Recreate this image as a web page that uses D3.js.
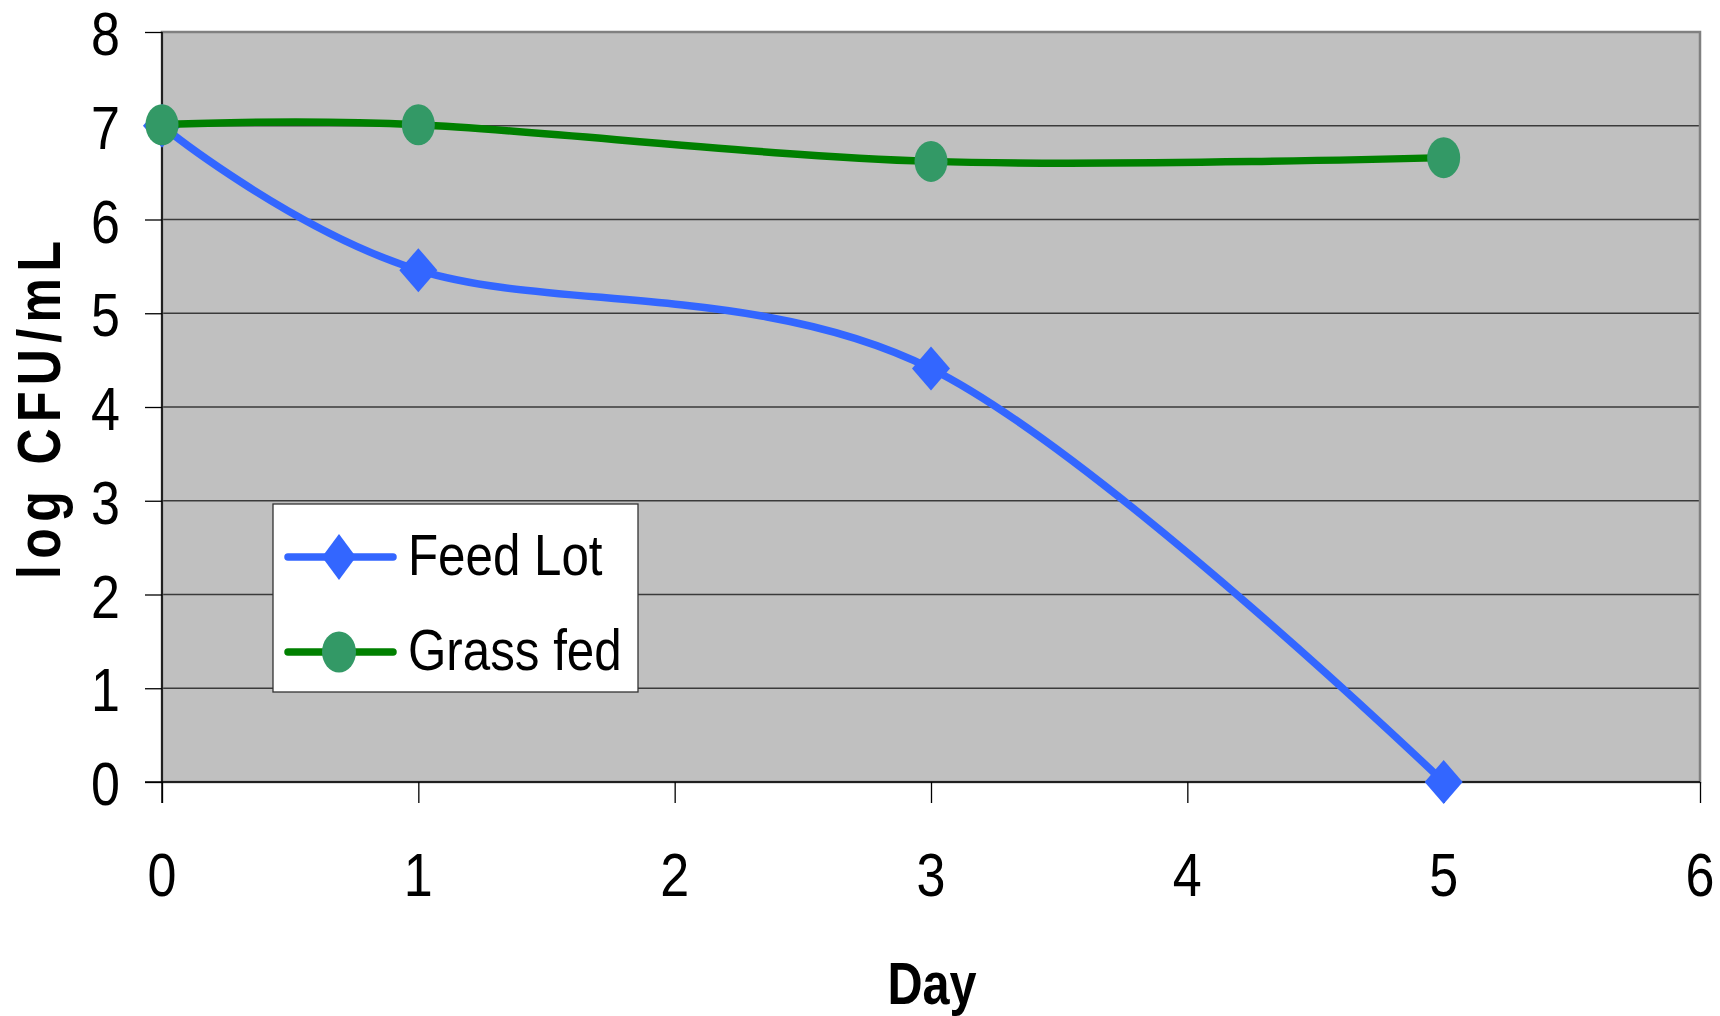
<!DOCTYPE html>
<html>
<head>
<meta charset="utf-8">
<script src="https://cdn.jsdelivr.net/npm/d3@7"></script>
<style>
  html, body { margin: 0; padding: 0; background: #fff; }
  svg { display: block; }
  text { font-family: "Liberation Sans", Arial, sans-serif; fill: #000; }
</style>
</head>
<body>
<svg id="chart" width="1720" height="1016"></svg>
<script>
// ---- data ----
const days = [0, 1, 3, 5];
const feedLot = [7.0, 5.46, 4.41, 0.0];
const grassFed = [7.01, 7.01, 6.62, 6.66];
const seriesNames = ["Feed Lot", "Grass fed"];
const xTicks = [0, 1, 2, 3, 4, 5, 6];
const yTicks = [0, 1, 2, 3, 4, 5, 6, 7, 8];
const xTitle = "Day";
const yTitle = "log CFU/mL";

// ---- layout ----
const svg = d3.select("#chart");
const L = 162, R = 1700, T = 32, B = 782;
const x = d3.scaleLinear().domain([0, 6]).range([L, R]);
const y = d3.scaleLinear().domain([0, 8]).range([B, T]);

const blue = "#3366FF", green = "#008000", greenMk = "#339966";

// plot background
svg.append("rect").attr("x", L).attr("y", T).attr("width", R - L).attr("height", B - T)
  .attr("fill", "#C0C0C0");

// gridlines
svg.append("g").selectAll("line").data(yTicks.filter(d => d > 0 && d < 8)).join("line")
  .attr("x1", L).attr("x2", R).attr("y1", d => y(d)).attr("y2", d => y(d))
  .attr("stroke", "#3a3a3a").attr("stroke-width", 1.3);

// border (gray top/right)
svg.append("rect").attr("x", L).attr("y", T).attr("width", R - L).attr("height", B - T)
  .attr("fill", "none").attr("stroke", "#808080").attr("stroke-width", 2.5);

// axes
const yAxis = d3.axisLeft(y).tickValues(yTicks).tickSize(17).tickFormat("");
const gy = svg.append("g").attr("transform", `translate(${L},0)`).call(yAxis);
gy.select(".domain").attr("stroke", "#000").attr("stroke-width", 1.5).attr("d", `M0,${B + 21}V${T}`);
gy.selectAll(".tick line").attr("stroke", "#000").attr("stroke-width", 1.3);

const xAxis = d3.axisBottom(x).tickValues(xTicks).tickSize(21).tickFormat("");
const gx = svg.append("g").attr("transform", `translate(0,${B})`).call(xAxis);
gx.select(".domain").attr("stroke", "#000").attr("stroke-width", 1.5).attr("d", `M${L - 17},0H${R}`);
gx.selectAll(".tick line").attr("stroke", "#000").attr("stroke-width", 1.3);

// tick labels (condensed)
svg.append("g").selectAll("text").data(yTicks).join("text")
  .attr("transform", d => `translate(120,${y(d) + 23}) scale(0.84,1)`)
  .attr("text-anchor", "end").attr("font-size", 62).text(d => d);

svg.append("g").selectAll("text").data(xTicks).join("text")
  .attr("transform", d => `translate(${x(d)},896) scale(0.84,1)`)
  .attr("text-anchor", "middle").attr("font-size", 62).text(d => d);

// axis titles
svg.append("text").attr("transform", "translate(932,1004) scale(0.81,1)")
  .attr("text-anchor", "middle").attr("font-size", 60).attr("font-weight", "bold").text(xTitle);

svg.append("text").attr("transform", "translate(60,410) rotate(-90) scale(0.82,1)")
  .attr("text-anchor", "middle").attr("font-size", 61).attr("font-weight", "bold")
  .attr("textLength", 338 / 0.82).attr("lengthAdjust", "spacing").text(yTitle);

// lines
const line = d3.line().x(d => x(d[0])).y(d => y(d[1])).curve(d3.curveCardinal.tension(0));
const feedPts = days.map((d, i) => [d, feedLot[i]]);
const grassPts = days.map((d, i) => [d, grassFed[i]]);

const diamond = (cx, cy, rx, ry) => `M${cx},${cy - ry}L${cx + rx},${cy}L${cx},${cy + ry}L${cx - rx},${cy}Z`;

svg.append("path").datum(feedPts).attr("d", line).attr("fill", "none")
  .attr("stroke", blue).attr("stroke-width", 7.5).attr("stroke-linejoin", "round");
svg.append("g").selectAll("path").data(feedPts).join("path")
  .attr("d", d => diamond(x(d[0]), y(d[1]), 19, 22)).attr("fill", blue);

svg.append("path").datum(grassPts).attr("d", line).attr("fill", "none")
  .attr("stroke", green).attr("stroke-width", 7.5).attr("stroke-linejoin", "round");
svg.append("g").selectAll("ellipse").data(grassPts).join("ellipse")
  .attr("cx", d => x(d[0])).attr("cy", d => y(d[1])).attr("rx", 16.5).attr("ry", 20.5)
  .attr("fill", greenMk);

// legend
const lg = svg.append("g");
lg.append("rect").attr("x", 273).attr("y", 504).attr("width", 365).attr("height", 188)
  .attr("fill", "#fff").attr("stroke", "#333").attr("stroke-width", 1.3);
const rows = [557, 652];
const cols = [blue, green];
rows.forEach((ry, i) => {
  lg.append("line").attr("x1", 288).attr("x2", 393).attr("y1", ry).attr("y2", ry)
    .attr("stroke", cols[i]).attr("stroke-width", 7.5).attr("stroke-linecap", "round");
  if (i === 0) {
    lg.append("path").attr("d", diamond(339, ry, 17, 23)).attr("fill", blue);
  } else {
    lg.append("ellipse").attr("cx", 339).attr("cy", ry).attr("rx", 17).attr("ry", 20.5).attr("fill", greenMk);
  }
  lg.append("text").attr("transform", `translate(408,${ry + 18}) scale(0.85,1)`)
    .attr("font-size", 58).text(seriesNames[i]);
});
</script>
</body>
</html>
